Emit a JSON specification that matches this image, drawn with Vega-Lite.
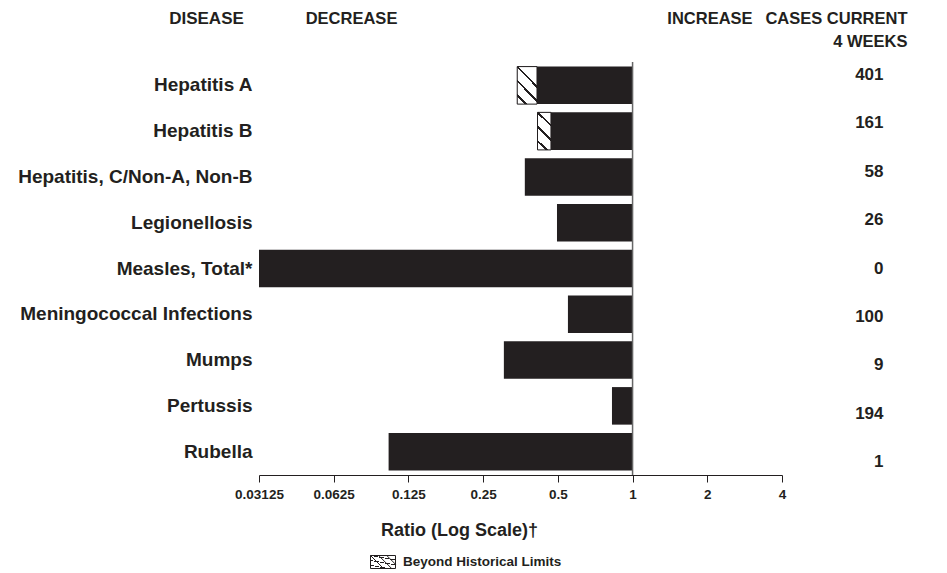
{
  "$schema": "https://vega.github.io/schema/vega-lite/v6.json",
  "width": 523,
  "height": 413,
  "autosize": {"type": "none"},
  "padding": {"left": 259, "top": 62, "right": 165, "bottom": 98},
  "background": "white",
  "config": {
    "font": "Liberation Sans",
    "view": {"stroke": null},
    "axis": {"labelFontWeight": "bold", "titleFontWeight": "bold", "labelColor": "#231f20", "titleColor": "#231f20", "grid": false}
  },
  "data": {
    "values": [
      {"disease": "Hepatitis A", "ratio": 0.343, "limit": 0.412, "status": "Beyond Historical Limits", "cases": 401},
      {"disease": "Hepatitis B", "ratio": 0.414, "limit": 0.469, "status": "Beyond Historical Limits", "cases": 161},
      {"disease": "Hepatitis, C/Non-A, Non-B", "ratio": 0.368, "limit": null, "status": null, "cases": 58},
      {"disease": "Legionellosis", "ratio": 0.496, "limit": null, "status": null, "cases": 26},
      {"disease": "Measles, Total*", "ratio": 0.03125, "limit": null, "status": null, "cases": 0},
      {"disease": "Meningococcal Infections", "ratio": 0.549, "limit": null, "status": null, "cases": 100},
      {"disease": "Mumps", "ratio": 0.303, "limit": null, "status": null, "cases": 9},
      {"disease": "Pertussis", "ratio": 0.826, "limit": null, "status": null, "cases": 194},
      {"disease": "Rubella", "ratio": 0.104, "limit": null, "status": null, "cases": 1}
    ]
  },
  "layer": [
    {
      "layer": [
        {
          "mark": {"type": "bar", "color": "#231f20"},
          "encoding": {
            "y": {
              "field": "disease", "type": "nominal", "sort": null,
              "scale": {"paddingInner": 0.18, "paddingOuter": 0.1},
              "axis": {
                "orient": "left", "ticks": false, "domain": false, "labelPadding": 7,
                "labelFontSize": 19, "labelLimit": 400,
                "title": "DISEASE", "titleFontSize": 17, "titleAngle": 0,
                "titleAlign": "center", "titleBaseline": "middle", "titleX": -53, "titleY": -44
              }
            },
            "x": {
              "field": "ratio", "type": "quantitative",
              "scale": {"type": "log", "base": 2, "domain": [0.03125, 4], "nice": false},
              "axis": {
                "orient": "bottom", "values": [0.03125, 0.0625, 0.125, 0.25, 0.5, 1, 2, 4],
                "format": "~g", "labelFontSize": 13.5, "labelPadding": 5,
                "tickSize": 7, "tickColor": "#231f20", "tickWidth": 1,
                "domainColor": "#231f20", "domainWidth": 1,
                "labelFlush": false, "labelOverlap": false,
                "title": "Ratio (Log Scale)†", "titleFontSize": 18,
                "titleX": 200, "titleY": 55, "titleAlign": "center", "titleBaseline": "middle"
              }
            },
            "x2": {"datum": 1}
          }
        },
        {
          "transform": [{"filter": "datum.limit != null"}],
          "mark": {"type": "bar", "strokeWidth": 1},
          "encoding": {
            "y": {"field": "disease", "type": "nominal", "sort": null},
            "x": {"field": "ratio", "type": "quantitative", "axis": null},
            "x2": {"field": "limit"},
            "fill": {
              "condition": {
                "test": "datum.disease === 'Hepatitis A'",
                "value": {"gradient": "linear", "x1": 0, "y1": 1, "x2": 0.54, "y2": 0, "stops": [
                  {"offset": 0, "color": "white"}, {"offset": 0.16, "color": "white"},
                  {"offset": 0.16, "color": "#231f20"}, {"offset": 0.215, "color": "#231f20"},
                  {"offset": 0.215, "color": "white"}, {"offset": 0.455, "color": "white"},
                  {"offset": 0.455, "color": "#231f20"}, {"offset": 0.51, "color": "#231f20"},
                  {"offset": 0.51, "color": "white"}, {"offset": 0.748, "color": "white"},
                  {"offset": 0.748, "color": "#231f20"}, {"offset": 0.803, "color": "#231f20"},
                  {"offset": 0.803, "color": "white"}, {"offset": 1, "color": "white"}
                ]}
              },
              "value": {"gradient": "linear", "x1": 0, "y1": 1, "x2": 0.351, "y2": 0, "stops": [
                {"offset": 0, "color": "white"}, {"offset": 0.187, "color": "white"},
                {"offset": 0.187, "color": "#231f20"}, {"offset": 0.245, "color": "#231f20"},
                {"offset": 0.245, "color": "white"}, {"offset": 0.525, "color": "white"},
                {"offset": 0.525, "color": "#231f20"}, {"offset": 0.583, "color": "#231f20"},
                {"offset": 0.583, "color": "white"}, {"offset": 0.861, "color": "white"},
                {"offset": 0.861, "color": "#231f20"}, {"offset": 0.919, "color": "#231f20"},
                {"offset": 0.919, "color": "white"}, {"offset": 1, "color": "white"}
              ]}
            },
            "stroke": {
              "field": "status", "type": "nominal",
              "scale": {"range": ["#231f20"]},
              "legend": {
                "title": null, "orient": "none", "legendX": 111, "legendY": 487,
                "padding": 0,
                "symbolType": "M-1,-0.52L1,-0.52L1,0.52L-1,0.52Z M-1,-0.52L0.04,0.52 M-0.35,-0.52L0.69,0.52 M0.3,-0.52L1,0.18",
                "symbolSize": 625,
                "symbolStrokeWidth": 1, "symbolStrokeColor": "#231f20", "symbolFillColor": "white",
                "labelFont": "Liberation Sans", "labelFontSize": 13.5, "labelFontWeight": "bold",
                "labelColor": "#231f20", "labelOffset": 7, "labelLimit": 400,
                "encode": {
                  "symbols": {
                    "update": {
                      "fill": {"value": "white"},
                      "stroke": {"value": "#231f20"},
                      "strokeWidth": {"value": 1}
                    }
                  }
                }
              }
            }
          }
        },
        {
          "transform": [{"filter": "datum.disease === 'Hepatitis A'"}],
          "mark": {"type": "rule", "color": "#666666", "strokeWidth": 1.5},
          "encoding": {
            "x": {
              "datum": 1, "type": "quantitative",
              "scale": {"type": "log", "base": 2, "domain": [0.03125, 4], "nice": false},
              "axis": {
                "orient": "top", "values": [0.0734, 2.04],
                "labelExpr": "datum.value < 1 ? 'DECREASE' : 'INCREASE'",
                "ticks": false, "tickSize": 0, "domain": false, "labelPadding": 44,
                "labelBaseline": "middle", "labelAlign": "center",
                "labelFontSize": 16.5, "labelFlush": false, "labelOverlap": false, "labelBound": false,
                "title": null
              }
            }
          }
        }
      ],
      "resolve": {"axis": {"x": "independent"}}
    },
    {
      "mark": {"type": "rule", "opacity": 0},
      "encoding": {
        "y": {
          "field": "cases", "type": "nominal", "sort": null,
          "scale": {"paddingInner": 0.46, "paddingOuter": 0},
          "axis": {
            "orient": "right", "ticks": false, "domain": false,
            "labelPadding": 101, "labelAlign": "right", "labelFontSize": 17,
            "title": ["CASES CURRENT", "4 WEEKS"], "titleFontSize": 16.5, "titleAngle": 0,
            "titleAlign": "right", "titleBaseline": "middle", "titleLineHeight": 23,
            "titleX": 125, "titleY": -44
          }
        }
      }
    }
  ],
  "resolve": {"scale": {"y": "independent"}, "axis": {"y": "independent"}}
}
